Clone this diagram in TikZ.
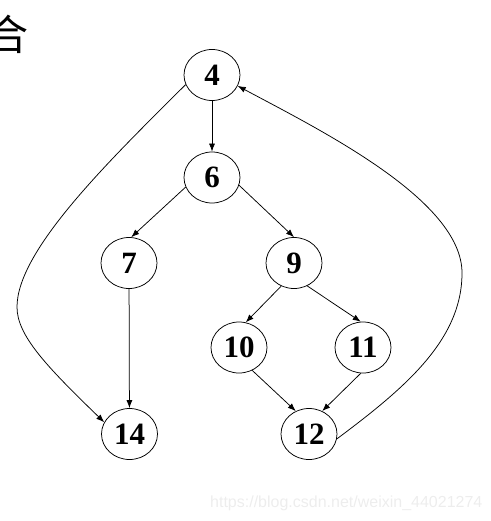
\documentclass[tikz,border=0pt]{standalone}
\usepackage{fontspec}
\setmainfont{Liberation Serif}
\newfontfamily\cjkfont{Noto Sans CJK SC}
\newfontfamily\wmfont{Liberation Sans}
\usetikzlibrary{shapes.geometric,arrows.meta}
\begin{document}
\begin{tikzpicture}[x=1pt,y=-1pt,
  vtx/.style={ellipse,draw,line width=0.75pt,minimum width=56pt,minimum height=51pt,inner sep=0pt,
    font=\fontsize{31}{31}\selectfont\bfseries},
  edge/.style={line width=0.75pt,-{Latex[length=8pt,width=6pt]}}]
\useasboundingbox (0,0) rectangle (490,521);
\clip (0,0) rectangle (490,521);
\node[anchor=base,inner sep=0pt,font=\cjkfont\fontsize{42}{42}\selectfont] (title) at (8,51) {合};
\node[vtx] (n4) at (212,75) {4};
\node[vtx] (n6) at (212,177.5) {6};
\node[vtx] (n7) at (129,263) {7};
\node[vtx] (n9) at (294,263) {9};
\node[vtx] (n10) at (239,347.5) {10};
\node[vtx] (n11) at (363,347.5) {11};
\node[vtx] (n14) at (129.5,434) {14};
\node[vtx] (n12) at (309,434) {12};
\draw[edge] (n4) -- (n6);
\draw[edge] (n6.200) -- (n7.85);
\draw[edge] (n6.344) -- (n9.north);
\draw[edge] (n9.241) -- (n10.75);
\draw[edge] (n9.300) -- (n11.95);
\draw[edge] (n7) -- (n14);
\draw[edge] (n10.300) -- (n12.120);
\draw[edge] (n11.265) -- (n12.60);
\draw[edge] (n4.200) .. controls (110,160) and (17,250) .. (17,307) .. controls (17,335) and (45,365) .. (n14.155);
\draw[edge] (n12.350) .. controls (405,388) and (462,340) .. (462,273) .. controls (462,200) and (320,130) .. (n4.337);
\node[anchor=base west,inner sep=0pt,text=black!7,font=\wmfont\fontsize{16}{16}\selectfont] (wm) at (210,507) {https://blog.csdn.net/weixin\_44021274};
\end{tikzpicture}
\end{document}
